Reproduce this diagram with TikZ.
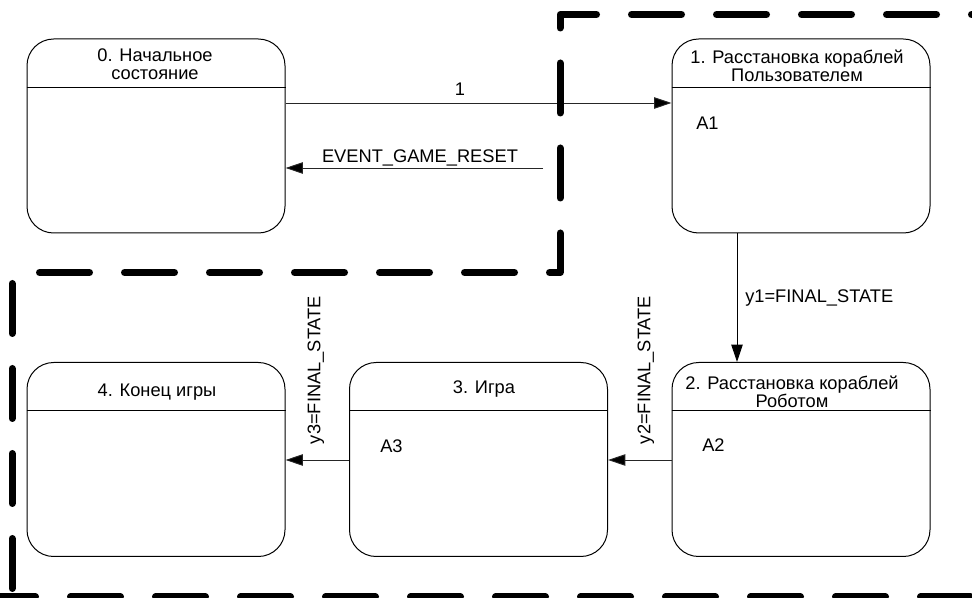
\documentclass[tikz,border=0pt]{standalone}
\usepackage{fontspec}
\setmainfont{Liberation Sans}
\usetikzlibrary{arrows.meta}
\begin{document}
\begin{tikzpicture}[x=0.75pt,y=-0.75pt,
  txt/.style={font=\fontsize{13.7}{13.5}\selectfont, inner sep=0pt},
  state/.style={draw, line width=0.75pt, rounded corners=20pt, minimum width=193.5pt, minimum height=145.5pt, inner sep=0pt},
  hdr/.style={txt, align=center},
  act/.style={txt, anchor=west},
  lbl/.style={txt},
  arr/.style={line width=0.7pt, draw=black!85, -{Triangle[length=13pt,width=8.5pt,fill=black]}},
  bnd/.style={line width=5.25pt, line cap=round, line join=round, dash pattern=on 37.5pt off 26.25pt}
]
\useasboundingbox (0,0) rectangle (972,598);
\fill[white] (0,0) rectangle (972,598);

% states
\node[state] (s0) at (156,136) {};
\node[state] (s1) at (801,136) {};
\node[state] (s2) at (801,459.5) {};
\node[state] (s3) at (478.5,459.5) {};
\node[state] (s4) at (156,459.5) {};

\foreach \s in {s0,s1,s2,s3,s4}{
  \draw[line width=0.75pt] ([yshift=-36.75pt]\s.north west) -- ([yshift=-36.75pt]\s.north east);
}

% headers
\node[hdr] (h0) at (155,64.5) {0. Начальное\\состояние};
\node[hdr] (h1) at (797,65.5) {1. Расстановка кораблей\\Пользователем};
\node[hdr] (h2) at (792,392) {2. Расстановка кораблей\\Роботом};
\node[hdr] (h3) at (484,389) {3. Игра};
\node[hdr] (h4) at (157,392) {4. Конец игры};

% actions
\node[act] (a1) at (696,123) {A1};
\node[act] (a2) at (702,445) {A2};
\node[act] (a3) at (380,446) {A3};

% transitions
\draw[arr] (s0.east |- 0,103) -- (s1.west |- 0,103);
\node[lbl] (l1) at (460,89) {1};

\coordinate (evs) at (543,168);
\draw[arr] (evs) -- (s0.east |- evs);
\node[lbl] (lev) at (420,158) {EVENT\_GAME\_RESET};

\draw[arr, draw=black] (s1.south -| 737,0) -- (s2.north -| 737,0);
\node[lbl, anchor=west] (ly1) at (745,298) {y1=FINAL\_STATE};

\draw[arr] (s2.west |- 0,460) -- (s3.east |- 0,460);
\node[lbl, rotate=90] (ly2) at (646,370) {y2=FINAL\_STATE};

\draw[arr] (s3.west |- 0,460) -- (s4.east |- 0,460);
\node[lbl, rotate=90] (ly3) at (316,370) {y3=FINAL\_STATE};

% dashed boundary
\draw[bnd] (1021.5,14.5) -- (560,14.5) -- (560,272.5) -- (12,272.5);
\draw[bnd] (12,283.5) -- (12,597);
\draw[bnd] (-14.5,597) -- (1000,597);
\end{tikzpicture}
\end{document}
